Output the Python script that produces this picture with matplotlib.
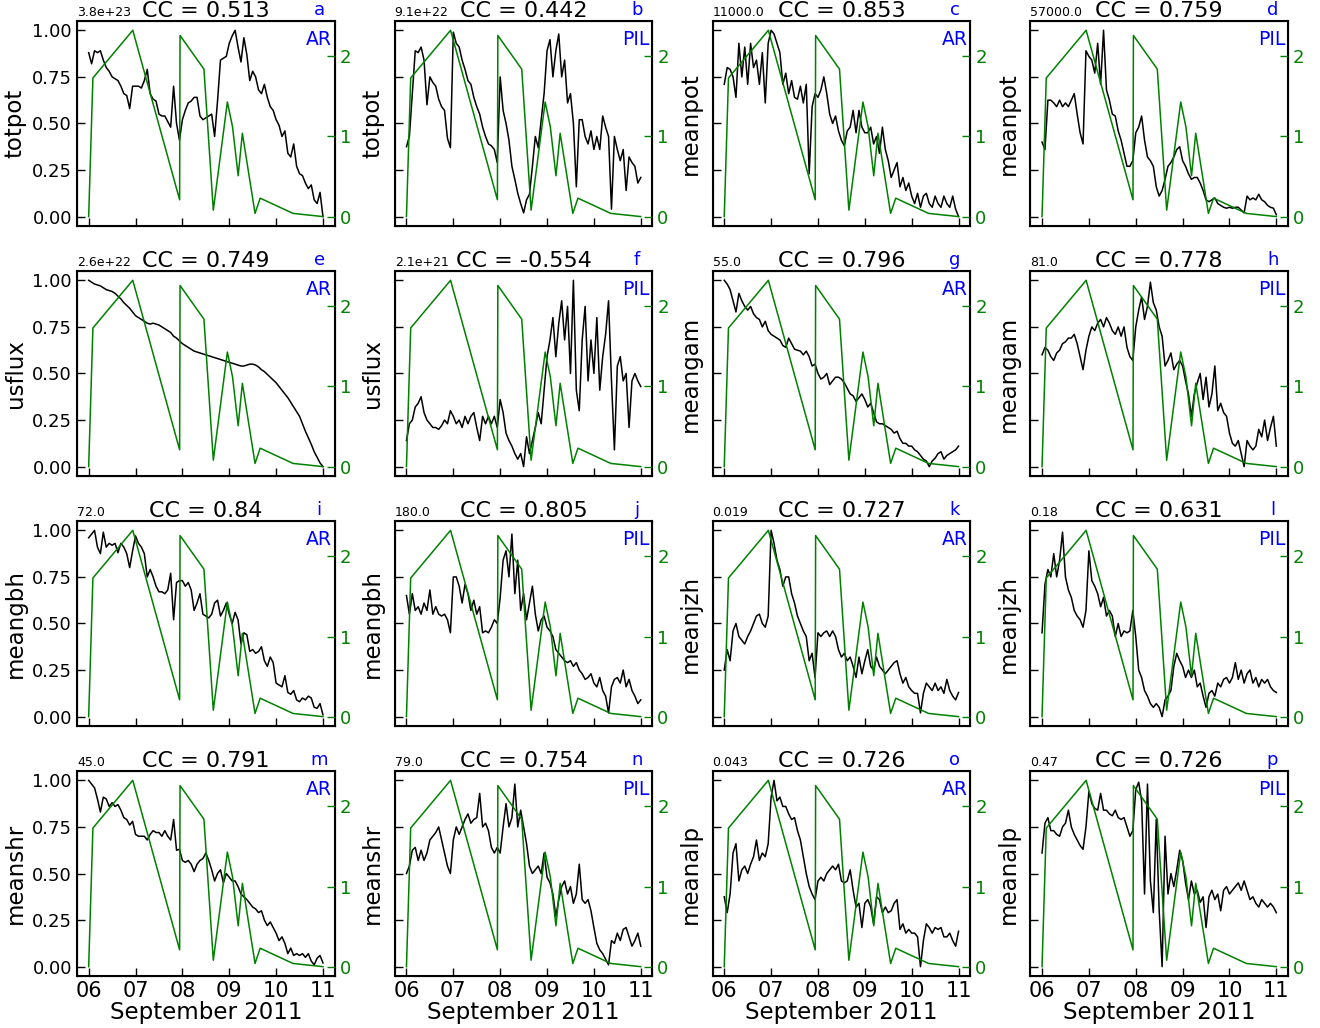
import numpy as np
import matplotlib
matplotlib.use('Agg')
import matplotlib.pyplot as plt
import matplotlib.dates as mdates

# sampling: every 90 min from 2011-09-06 00:00 to 2011-09-11 00:00
t0 = np.datetime64('2011-09-06T00:00')
times = t0 + (np.arange(81) * 90).astype('timedelta64[m]')

# flare index (same in every panel)
flare_times = np.array(['2011-09-06T00:00', '2011-09-06T02:10', '2011-09-06T22:35',
                        '2011-09-07T22:35', '2011-09-07T22:48', '2011-09-08T11:02',
                        '2011-09-08T15:50', '2011-09-08T23:02', '2011-09-09T01:41',
                        '2011-09-09T04:34', '2011-09-09T06:43', '2011-09-09T13:12',
                        '2011-09-09T15:50', '2011-09-10T08:38', '2011-09-11T00:00'],
                       dtype='datetime64[m]')
flare_vals = [0.0, 1.73, 2.325, 0.21, 2.26, 1.84, 0.08, 1.43, 1.12, 0.51, 1.04, 0.04, 0.23, 0.04, 0.0]

totpot_ar = [0.88, 0.82, 0.89, 0.88, 0.89, 0.84, 0.80, 0.78, 0.75, 0.74, 0.73, 0.70, 0.66, 0.65, 0.58, 0.70,
             0.70, 0.70, 0.69, 0.73, 0.79, 0.66, 0.63, 0.62, 0.55, 0.54, 0.54, 0.51, 0.48, 0.70, 0.50, 0.41,
             0.52, 0.57, 0.61, 0.62, 0.64, 0.64, 0.54, 0.52, 0.53, 0.54, 0.55, 0.43, 0.62, 0.84, 0.85, 0.86,
             0.93, 0.97, 1.00, 0.91, 0.83, 0.96, 0.87, 0.73, 0.78, 0.75, 0.68, 0.66, 0.71, 0.64, 0.59, 0.57,
             0.52, 0.49, 0.43, 0.46, 0.34, 0.32, 0.39, 0.27, 0.23, 0.22, 0.18, 0.15, 0.17, 0.09, 0.07, 0.13,
             0.00]
totpot_pil = [0.375, 0.43, 0.66, 0.89, 0.88, 0.91, 0.84, 0.60, 0.75, 0.72, 0.70, 0.63, 0.59, 0.57, 0.42, 0.37,
              0.99, 0.93, 0.91, 0.84, 0.79, 0.73, 0.71, 0.64, 0.59, 0.55, 0.48, 0.43, 0.39, 0.38, 0.36, 0.29,
              0.75, 0.57, 0.50, 0.41, 0.27, 0.20, 0.125, 0.07, 0.02, 0.09, 0.12, 0.27, 0.43, 0.37, 0.52, 0.66,
              0.89, 0.95, 0.75, 0.89, 0.98, 0.75, 0.84, 0.61, 0.66, 0.50, 0.16, 0.52, 0.52, 0.43, 0.39, 0.46,
              0.36, 0.43, 0.36, 0.54, 0.48, 0.43, 0.04, 0.43, 0.36, 0.30, 0.36, 0.14, 0.32, 0.29, 0.27, 0.18,
              0.21]
meanpot_ar = [0.71, 0.80, 0.79, 0.75, 0.64, 0.93, 0.75, 0.91, 0.71, 0.93, 0.80, 0.84, 0.71, 0.88, 0.61, 0.93,
              1.00, 0.98, 0.93, 0.88, 0.71, 0.77, 0.66, 0.73, 0.64, 0.63, 0.70, 0.61, 0.71, 0.23, 0.59, 0.66,
              0.64, 0.68, 0.75, 0.66, 0.55, 0.50, 0.54, 0.46, 0.41, 0.38, 0.46, 0.48, 0.57, 0.45, 0.57, 0.48,
              0.45, 0.45, 0.48, 0.39, 0.43, 0.34, 0.48, 0.36, 0.30, 0.21, 0.25, 0.29, 0.16, 0.21, 0.14, 0.18,
              0.11, 0.07, 0.125, 0.05, 0.11, 0.125, 0.07, 0.05, 0.11, 0.07, 0.05, 0.11, 0.07, 0.05, 0.11, 0.04,
              0.00]
meanpot_pil = [0.40, 0.36, 0.625, 0.625, 0.61, 0.59, 0.625, 0.59, 0.61, 0.59, 0.625, 0.66, 0.55, 0.45, 0.39, 0.89,
               0.86, 0.84, 0.77, 0.93, 0.71, 1.00, 0.68, 0.625, 0.55, 0.54, 0.46, 0.41, 0.34, 0.27, 0.27, 0.30,
               0.45, 0.48, 0.54, 0.41, 0.32, 0.30, 0.27, 0.16, 0.11, 0.14, 0.20, 0.27, 0.29, 0.32, 0.36, 0.375,
               0.30, 0.27, 0.23, 0.20, 0.21, 0.21, 0.18, 0.14, 0.09, 0.08, 0.09, 0.10, 0.07, 0.06, 0.05, 0.045,
               0.05, 0.045, 0.05, 0.05, 0.035, 0.02, 0.11, 0.09, 0.10, 0.09, 0.12, 0.09, 0.08, 0.06, 0.05, 0.045,
               0.01]
usflux_ar = [1.00, 0.99, 0.98, 0.975, 0.97, 0.96, 0.95, 0.945, 0.94, 0.93, 0.915, 0.90, 0.88, 0.865, 0.85, 0.83,
             0.81, 0.80, 0.79, 0.78, 0.77, 0.765, 0.77, 0.765, 0.76, 0.75, 0.74, 0.73, 0.72, 0.70, 0.69, 0.675,
             0.66, 0.65, 0.64, 0.63, 0.62, 0.615, 0.61, 0.605, 0.60, 0.595, 0.59, 0.585, 0.58, 0.575, 0.57, 0.565,
             0.56, 0.555, 0.55, 0.545, 0.54, 0.54, 0.545, 0.55, 0.55, 0.545, 0.535, 0.52, 0.51, 0.495, 0.48, 0.465,
             0.45, 0.43, 0.41, 0.39, 0.37, 0.345, 0.32, 0.295, 0.27, 0.23, 0.19, 0.155, 0.12, 0.08, 0.05, 0.02,
             0.00]
usflux_pil = [0.14, 0.23, 0.25, 0.32, 0.34, 0.375, 0.29, 0.25, 0.23, 0.21, 0.21, 0.20, 0.22, 0.25, 0.23, 0.30,
              0.27, 0.23, 0.25, 0.21, 0.27, 0.23, 0.27, 0.29, 0.21, 0.14, 0.27, 0.23, 0.27, 0.23, 0.27, 0.21,
              0.36, 0.29, 0.18, 0.14, 0.11, 0.07, 0.04, 0.07, 0.00, 0.16, 0.07, 0.14, 0.21, 0.29, 0.23, 0.41,
              0.59, 0.68, 0.80, 0.59, 0.77, 0.89, 0.68, 0.86, 0.50, 1.00, 0.41, 0.30, 0.68, 0.86, 0.46, 0.68,
              0.50, 0.80, 0.41, 0.59, 0.71, 0.89, 0.46, 0.09, 0.54, 0.59, 0.46, 0.50, 0.21, 0.46, 0.50, 0.46,
              0.43]
meangam_ar = [1.00, 0.98, 0.95, 0.89, 0.83, 0.93, 0.89, 0.86, 0.84, 0.86, 0.82, 0.80, 0.79, 0.75, 0.78, 0.73,
              0.71, 0.70, 0.69, 0.68, 0.65, 0.64, 0.69, 0.66, 0.63, 0.625, 0.62, 0.60, 0.62, 0.59, 0.54, 0.55,
              0.50, 0.47, 0.48, 0.50, 0.44, 0.46, 0.48, 0.48, 0.47, 0.45, 0.42, 0.39, 0.38, 0.35, 0.37, 0.39,
              0.36, 0.32, 0.34, 0.29, 0.24, 0.23, 0.23, 0.22, 0.21, 0.20, 0.18, 0.19, 0.15, 0.125, 0.125, 0.11,
              0.11, 0.09, 0.08, 0.06, 0.04, 0.03, 0.00, 0.03, 0.045, 0.07, 0.08, 0.04, 0.06, 0.07, 0.08, 0.09,
              0.11]
meangam_pil = [0.60, 0.64, 0.625, 0.59, 0.57, 0.61, 0.625, 0.66, 0.67, 0.69, 0.69, 0.71, 0.66, 0.59, 0.52, 0.625,
               0.70, 0.75, 0.73, 0.77, 0.79, 0.75, 0.80, 0.77, 0.73, 0.71, 0.75, 0.70, 0.75, 0.64, 0.59, 0.57,
               0.75, 0.84, 0.91, 0.79, 0.86, 0.99, 0.88, 0.84, 0.75, 0.70, 0.54, 0.57, 0.61, 0.52, 0.55, 0.57,
               0.54, 0.46, 0.39, 0.27, 0.39, 0.45, 0.50, 0.36, 0.48, 0.32, 0.39, 0.54, 0.30, 0.34, 0.29, 0.27,
               0.18, 0.125, 0.11, 0.14, 0.07, 0.00, 0.14, 0.11, 0.09, 0.11, 0.20, 0.16, 0.25, 0.14, 0.21, 0.27,
               0.11]
meangbh_ar = [0.96, 0.98, 1.00, 0.91, 0.875, 0.99, 0.91, 0.93, 0.92, 0.93, 0.88, 0.93, 0.91, 0.875, 0.80, 0.89,
              0.97, 0.93, 0.91, 0.875, 0.75, 0.79, 0.75, 0.70, 0.67, 0.67, 0.66, 0.68, 0.77, 0.52, 0.72, 0.73,
              0.73, 0.70, 0.72, 0.68, 0.57, 0.61, 0.66, 0.55, 0.54, 0.53, 0.55, 0.61, 0.625, 0.54, 0.57, 0.61,
              0.55, 0.50, 0.56, 0.52, 0.39, 0.45, 0.44, 0.35, 0.36, 0.34, 0.35, 0.375, 0.30, 0.27, 0.32, 0.29,
              0.18, 0.17, 0.16, 0.22, 0.13, 0.12, 0.14, 0.09, 0.08, 0.10, 0.09, 0.11, 0.10, 0.05, 0.045, 0.07,
              0.01]
meangbh_pil = [0.65, 0.55, 0.66, 0.57, 0.59, 0.55, 0.61, 0.57, 0.68, 0.55, 0.59, 0.55, 0.54, 0.55, 0.52, 0.45,
               0.75, 0.75, 0.70, 0.61, 0.71, 0.66, 0.57, 0.625, 0.55, 0.59, 0.45, 0.46, 0.45, 0.48, 0.52, 0.50,
               0.64, 0.84, 0.89, 0.75, 0.98, 0.66, 0.84, 0.57, 0.66, 0.52, 0.61, 0.70, 0.55, 0.46, 0.52, 0.54,
               0.48, 0.46, 0.43, 0.36, 0.34, 0.32, 0.30, 0.29, 0.30, 0.27, 0.29, 0.25, 0.23, 0.20, 0.21, 0.23,
               0.18, 0.16, 0.21, 0.14, 0.11, 0.02, 0.16, 0.20, 0.21, 0.18, 0.25, 0.16, 0.20, 0.14, 0.11, 0.07,
               0.09]
meanjzh_ar = [0.25, 0.36, 0.30, 0.46, 0.50, 0.43, 0.41, 0.39, 0.43, 0.46, 0.50, 0.54, 0.55, 0.50, 0.48, 0.54,
              1.00, 0.93, 0.84, 0.79, 0.70, 0.75, 0.75, 0.66, 0.61, 0.54, 0.50, 0.46, 0.43, 0.30, 0.34, 0.21,
              0.45, 0.43, 0.45, 0.46, 0.43, 0.46, 0.43, 0.36, 0.32, 0.34, 0.30, 0.32, 0.27, 0.21, 0.32, 0.23,
              0.30, 0.36, 0.27, 0.25, 0.32, 0.27, 0.25, 0.23, 0.25, 0.27, 0.29, 0.30, 0.23, 0.18, 0.21, 0.16,
              0.14, 0.125, 0.125, 0.02, 0.125, 0.18, 0.16, 0.14, 0.18, 0.14, 0.16, 0.125, 0.20, 0.14, 0.11, 0.09,
              0.13]
meanjzh_pil = [0.45, 0.71, 0.79, 0.75, 0.875, 0.75, 0.84, 0.99, 0.75, 0.68, 0.64, 0.57, 0.54, 0.52, 0.48, 0.57,
               0.89, 0.73, 0.70, 0.66, 0.59, 0.64, 0.54, 0.57, 0.54, 0.43, 0.50, 0.43, 0.46, 0.45, 0.46, 0.57,
               0.43, 0.25, 0.21, 0.14, 0.11, 0.07, 0.05, 0.07, 0.05, 0.00, 0.09, 0.11, 0.14, 0.27, 0.34, 0.30,
               0.27, 0.21, 0.25, 0.21, 0.25, 0.16, 0.18, 0.11, 0.05, 0.125, 0.14, 0.11, 0.18, 0.16, 0.20, 0.21,
               0.18, 0.21, 0.29, 0.20, 0.25, 0.18, 0.23, 0.25, 0.18, 0.21, 0.16, 0.20, 0.18, 0.20, 0.16, 0.14,
               0.13]
meanshr_ar = [1.00, 0.98, 0.96, 0.90, 0.83, 0.91, 0.90, 0.86, 0.88, 0.86, 0.87, 0.84, 0.80, 0.79, 0.76, 0.78,
              0.71, 0.70, 0.70, 0.70, 0.68, 0.71, 0.73, 0.72, 0.72, 0.70, 0.73, 0.70, 0.68, 0.79, 0.625, 0.63,
              0.57, 0.56, 0.57, 0.55, 0.51, 0.55, 0.57, 0.58, 0.61, 0.57, 0.52, 0.46, 0.50, 0.52, 0.45, 0.50,
              0.48, 0.46, 0.46, 0.43, 0.39, 0.375, 0.36, 0.34, 0.32, 0.31, 0.29, 0.30, 0.25, 0.22, 0.24, 0.21,
              0.18, 0.14, 0.16, 0.125, 0.07, 0.10, 0.06, 0.07, 0.06, 0.07, 0.05, 0.07, 0.03, 0.01, 0.045, 0.06,
              0.02]
meanshr_pil = [0.50, 0.54, 0.625, 0.64, 0.57, 0.625, 0.57, 0.61, 0.68, 0.70, 0.72, 0.75, 0.68, 0.61, 0.54, 0.50,
               0.68, 0.75, 0.71, 0.75, 0.79, 0.82, 0.77, 0.79, 0.80, 0.93, 0.75, 0.77, 0.73, 0.64, 0.61, 0.64,
               0.61, 0.75, 0.875, 0.75, 0.80, 0.98, 0.75, 0.84, 0.75, 0.66, 0.54, 0.50, 0.52, 0.54, 0.50, 0.61,
               0.48, 0.45, 0.39, 0.27, 0.36, 0.43, 0.46, 0.39, 0.43, 0.34, 0.39, 0.55, 0.36, 0.34, 0.36, 0.30,
               0.21, 0.125, 0.09, 0.07, 0.04, 0.01, 0.14, 0.125, 0.18, 0.14, 0.20, 0.21, 0.16, 0.11, 0.14, 0.18,
               0.11]
meanalp_ar = [0.375, 0.29, 0.39, 0.61, 0.66, 0.46, 0.52, 0.54, 0.50, 0.55, 0.59, 0.68, 0.57, 0.61, 0.59, 0.66,
              0.91, 1.00, 0.89, 0.91, 0.86, 0.86, 0.82, 0.79, 0.80, 0.73, 0.68, 0.59, 0.50, 0.43, 0.39, 0.36,
              0.46, 0.48, 0.46, 0.50, 0.52, 0.54, 0.52, 0.55, 0.46, 0.45, 0.46, 0.52, 0.41, 0.32, 0.34, 0.21,
              0.34, 0.36, 0.32, 0.23, 0.375, 0.36, 0.29, 0.32, 0.29, 0.30, 0.34, 0.36, 0.20, 0.23, 0.18, 0.20,
              0.18, 0.18, 0.16, 0.00, 0.14, 0.23, 0.21, 0.18, 0.21, 0.20, 0.21, 0.16, 0.16, 0.18, 0.14, 0.11,
              0.19]
meanalp_pil = [0.61, 0.77, 0.80, 0.73, 0.73, 0.71, 0.70, 0.75, 0.77, 0.84, 0.75, 0.71, 0.68, 0.65, 0.63, 0.75,
               0.94, 0.875, 0.85, 0.84, 0.93, 0.84, 0.84, 0.82, 0.81, 0.84, 0.80, 0.79, 0.80, 0.75, 0.70, 0.73,
               0.95, 0.99, 0.89, 0.39, 0.98, 0.46, 0.29, 0.79, 0.30, 0.00, 0.70, 0.39, 0.50, 0.43, 0.52, 0.625,
               0.57, 0.45, 0.36, 0.46, 0.39, 0.41, 0.345, 0.375, 0.21, 0.375, 0.41, 0.36, 0.39, 0.30, 0.41, 0.43,
               0.39, 0.41, 0.43, 0.45, 0.41, 0.46, 0.41, 0.36, 0.375, 0.34, 0.32, 0.36, 0.34, 0.32, 0.34, 0.32,
               0.29]

series = [totpot_ar, totpot_pil, meanpot_ar, meanpot_pil,
          usflux_ar, usflux_pil, meangam_ar, meangam_pil,
          meangbh_ar, meangbh_pil, meanjzh_ar, meanjzh_pil,
          meanshr_ar, meanshr_pil, meanalp_ar, meanalp_pil]
params = ['totpot', 'totpot', 'meanpot', 'meanpot', 'usflux', 'usflux', 'meangam', 'meangam',
          'meangbh', 'meangbh', 'meanjzh', 'meanjzh', 'meanshr', 'meanshr', 'meanalp', 'meanalp']
regions = ['AR', 'PIL'] * 8
cc = [0.513, 0.442, 0.853, 0.759, 0.749, -0.554, 0.796, 0.778,
      0.84, 0.805, 0.727, 0.631, 0.791, 0.754, 0.726, 0.726]
scales = ['3.8e+23', '9.1e+22', '11000.0', '57000.0', '2.6e+22', '2.1e+21', '55.0', '81.0',
          '72.0', '180.0', '0.019', '0.18', '45.0', '79.0', '0.043', '0.47']
letters = list('abcdefghijklmnop')

fig, axes = plt.subplots(4, 4, figsize=(13.2, 10.28), dpi=100)
plt.subplots_adjust(left=0.0583, right=0.9758, top=0.9796, bottom=0.0506, wspace=0.233, hspace=0.22)

for i, ax in enumerate(axes.flat):
    row, col = divmod(i, 4)
    ax.plot(times, series[i], color='black', lw=1.1)
    ax.set_ylim(-0.05, 1.05)
    ax.set_yticks([0, 0.25, 0.5, 0.75, 1.0])
    ax.set_ylabel(params[i], fontsize=16.5)
    ax.tick_params(direction='in', length=6, width=1, labelsize=13, top=False, right=False)
    if col != 0:
        ax.set_yticklabels([])
    ax.xaxis.set_major_locator(mdates.DayLocator())
    ax.xaxis.set_major_formatter(mdates.DateFormatter('%d'))
    if row == 3:
        ax.set_xlabel('September 2011', fontsize=16.5, labelpad=0)
        ax.tick_params(axis='x', labelsize=15)
    else:
        ax.set_xticklabels([])
    for sp in ax.spines.values():
        sp.set_linewidth(1.5)

    ax2 = ax.twinx()
    ax2.plot(flare_times, flare_vals, color='green', lw=1.1)
    ax2.set_yticks([0, 1, 2])
    ax2.tick_params(direction='in', length=6, width=1, colors='green', labelsize=13)
    ax2.spines['right'].set_color('black')

    ax.set_title('CC = %s' % cc[i], fontsize=16, pad=2.5)
    ax.text(0.0, 1.012, scales[i], transform=ax.transAxes, fontsize=9, ha='left', va='bottom')
    ax.text(0.94, 1.012, letters[i], transform=ax.transAxes, fontsize=13, color='blue',
            ha='center', va='bottom')
    ax.text(0.99, 0.955, regions[i], transform=ax.transAxes, fontsize=13.5, color='blue',
            ha='right', va='top')

fig.savefig('out.png', dpi=100)
